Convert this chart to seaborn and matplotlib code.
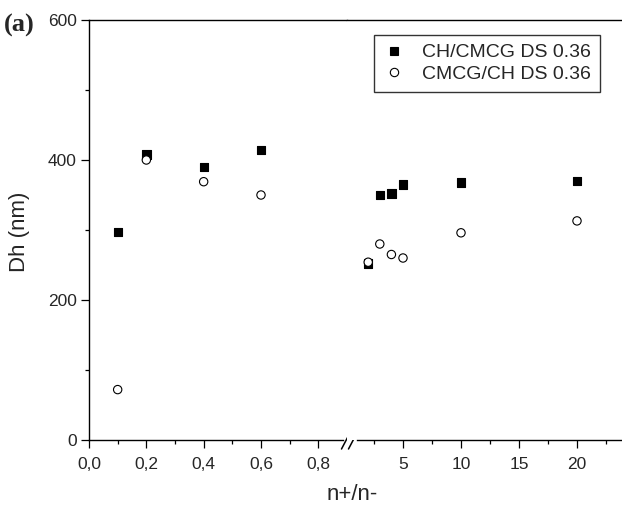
import numpy as np
import pandas as pd
import matplotlib
matplotlib.use("Agg")
import matplotlib.pyplot as plt
import seaborn as sns
from matplotlib.ticker import FixedLocator, FuncFormatter

# values
n_ratio = [0.1, 0.2, 0.4, 0.6, 2, 3, 4, 5, 10, 20]
dh_ch_cmcg = [297, 408, 390, 414, 252, 350, 352, 365, 368, 370]
dh_cmcg_ch = [72, 400, 369, 350, 254, 280, 265, 260, 296, 313]
series_names = ["CH/CMCG DS 0.36", "CMCG/CH DS 0.36"]

df = pd.concat([
    pd.DataFrame({"x": n_ratio, "Dh": dh_ch_cmcg, "series": series_names[0]}),
    pd.DataFrame({"x": n_ratio, "Dh": dh_cmcg_ch, "series": series_names[1]}),
], ignore_index=True)

sns.set_style("ticks")
plt.rcParams["font.family"] = ["Liberation Sans", "DejaVu Sans"]

W, H = 622, 507
fig = plt.figure(figsize=(W / 100, H / 100), dpi=100)

def fx(px):
    return px / W

def fy(py):
    return (H - py) / H

ax_bottom, ax_top = 440, 20
left_x0, brk, right_x1 = 89, 347, 622
ax1 = fig.add_axes([fx(left_x0), fy(ax_bottom), fx(brk - left_x0), (ax_bottom - ax_top) / H])
ax2 = fig.add_axes([fx(brk), fy(ax_bottom), fx(right_x1 - brk), (ax_bottom - ax_top) / H], sharey=ax1)

palette = {series_names[0]: "black", series_names[1]: "white"}
markers = {series_names[0]: "s", series_names[1]: "o"}

low = df[df["x"] < 1]
high = df[df["x"] > 1]

sns.scatterplot(data=low, x="x", y="Dh", hue="series", style="series",
                palette=palette, markers=markers, s=36, edgecolor="black",
                linewidth=0.8, ax=ax1, legend=True)
sns.scatterplot(data=high, x="x", y="Dh", hue="series", style="series",
                palette=palette, markers=markers, s=36, edgecolor="black",
                linewidth=0.8, ax=ax2, legend=False)

ax1.set_xlim(0, 0.9)
ax2.set_xlim(5 - (403 - brk) / 11.6, 5 + (right_x1 - 403) / 11.6)
ax1.set_ylim(0, 600)

ax1.set_yticks([0, 200, 400, 600])
ax1.yaxis.set_minor_locator(FixedLocator([100, 300, 500]))
ax1.set_xticks([0, 0.2, 0.4, 0.6, 0.8])
ax1.xaxis.set_minor_locator(FixedLocator([0.1, 0.3, 0.5, 0.7]))
ax1.xaxis.set_major_formatter(FuncFormatter(lambda v, p: f"{v:.1f}".replace(".", ",")))
ax2.set_xticks([5, 10, 15, 20])
ax2.xaxis.set_minor_locator(FixedLocator([2.5, 7.5, 12.5, 17.5, 22.5]))

for ax in (ax1, ax2):
    ax.set_xlabel("")
    ax.set_ylabel("")
    ax.tick_params(which="major", length=5.5, width=0.9, labelsize=12.5, color="black")
    ax.tick_params(which="minor", length=3, width=0.9, color="black")
    ax.tick_params(axis="x", which="major", pad=6.5)
    for sp in ax.spines.values():
        sp.set_linewidth(1.0)
        sp.set_color("black")

ax1.spines["right"].set_visible(False)
ax2.spines["left"].set_visible(False)
ax2.spines["right"].set_visible(False)
ax2.tick_params(axis="y", which="both", left=False, labelleft=False)
ax1.spines["bottom"].set_bounds(0, (343 - left_x0) / 286.7)
ax2.spines["bottom"].set_bounds(5 - (403 - 357) / 11.6, ax2.get_xlim()[1])

# break marks on the x axis
for cx in (346.5, 353.5):
    ax1.plot([fx(cx - 5), fx(cx + 5)], [fy(449), fy(430)], color="black",
             lw=1.1, transform=fig.transFigure, clip_on=False)

# legend moved to the right-hand axes
leg = ax1.get_legend()
handles = leg.legend_handles
labels = [t.get_text() for t in leg.get_texts()]
leg.remove()
lg = ax2.legend(handles, labels, loc="upper right",
                bbox_to_anchor=(fx(600), fy(35)), bbox_transform=fig.transFigure,
                fontsize=14, frameon=True, fancybox=False, framealpha=1,
                edgecolor="#333333", borderpad=0.45, labelspacing=0.2,
                handlelength=1.2, handletextpad=0.85, borderaxespad=0)
lg.get_frame().set_linewidth(1.0)

fig.text(fx(19), fy(232), "Dh (nm)", rotation=90, ha="center", va="center", fontsize=16)
fig.text(fx(352.5), fy(500), "n+/n-", ha="center", va="baseline", fontsize=16)
fig.text(fx(4), fy(32), "(a)", ha="left", va="baseline", fontsize=19,
         fontweight="bold", family=["Liberation Serif", "DejaVu Serif"])

fig.savefig("out.png", dpi=100)
